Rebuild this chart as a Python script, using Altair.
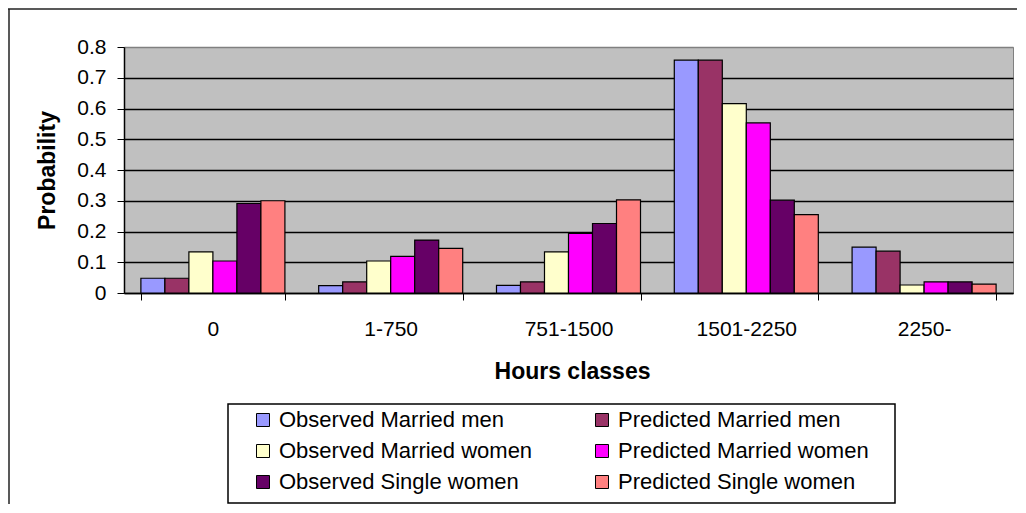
import altair as alt
import pandas as pd

categories = ["0", "1-750", "751-1500", "1501-2250", "2250-"]
series = [
    "Observed Married men",
    "Predicted Married men",
    "Observed Married women",
    "Predicted Married women",
    "Observed Single women",
    "Predicted Single women",
]
colors = ["#9999FF", "#993366", "#FFFFCC", "#FF00FF", "#660066", "#FF8080"]

obs_married_men = [0.048, 0.024, 0.025, 0.757, 0.149]
pred_married_men = [0.048, 0.036, 0.036, 0.757, 0.136]
obs_married_women = [0.134, 0.104, 0.134, 0.616, 0.026]
pred_married_women = [0.104, 0.119, 0.194, 0.553, 0.036]
obs_single_women = [0.291, 0.172, 0.226, 0.302, 0.036]
pred_single_women = [0.300, 0.145, 0.303, 0.255, 0.029]

y_ticks = [0, 0.1, 0.2, 0.3, 0.4, 0.5, 0.6, 0.7, 0.8]

all_values = [obs_married_men, pred_married_men, obs_married_women,
              pred_married_women, obs_single_women, pred_single_women]
rows = []
for s, vals in zip(series, all_values):
    for c, v in zip(categories, vals):
        rows.append({"Hours classes": c, "Series": s, "Probability": v})
df = pd.DataFrame(rows)

# legend is laid out column by column: observed series first, predicted second
legend_order = series[0::2] + series[1::2]
legend_colors = colors[0::2] + colors[1::2]

W, H = 889, 246
FONT = "Liberation Sans"

bars = alt.Chart(df).mark_bar(stroke="black", strokeWidth=1.2).encode(
    x=alt.X(
        "Hours classes:N",
        sort=categories,
        scale=alt.Scale(paddingInner=0.19, paddingOuter=0.095),
        axis=alt.Axis(
            title="Hours classes",
            labelAngle=0,
            tickBand="extent",
            tickSize=7,
            tickColor="black",
            domainColor="black",
            domainWidth=1.5,
            grid=False,
            labelFont=FONT,
            labelFontSize=21,
            labelColor="black",
            labelPadding=18,
            titleFont=FONT,
            titleFontSize=23,
            titleFontWeight="bold",
            titleColor="black",
            titleX=448,
            titleY=67,
            titleBaseline="top",
        ),
    ),
    xOffset=alt.XOffset("Series:N", sort=series,
                        scale=alt.Scale(paddingInner=0, paddingOuter=0)),
    y=alt.Y(
        "Probability:Q",
        scale=alt.Scale(domain=[0, 0.8], nice=False),
        axis=alt.Axis(
            title="Probability",
            values=y_ticks,
            format="~g",
            tickSize=7,
            tickColor="black",
            domainColor="black",
            domainWidth=1.5,
            grid=True,
            gridColor={"condition": {"test": "datum.value >= 0.79", "value": "#808080"}, "value": "black"},
            gridWidth=1.5,
            labelFont=FONT,
            labelFontSize=21,
            labelColor="black",
            labelPadding=11,
            titleFont=FONT,
            titleFontSize=23,
            titleFontWeight="bold",
            titleColor="black",
            titleX=-77,
            titleY=H / 2,
            titleBaseline="middle",
        ),
    ),
    color=alt.Color(
        "Series:N",
        scale=alt.Scale(domain=legend_order, range=legend_colors),
        legend=alt.Legend(
            title=None,
            orient="none",
            legendX=128,
            legendY=362,
            columns=2,
            columnPadding=58,
            rowPadding=9,
            symbolType="square",
            symbolSize=169,
            symbolStrokeColor="black",
            symbolStrokeWidth=1,
            labelFont=FONT,
            labelFontSize=22,
            labelColor="black",
            labelOffset=5,
            padding=0,
            labelLimit=400,
        ),
    ),
)

one = alt.Data(values=[{"k": 1}])
top_border = alt.Chart(one).mark_rule(color="#222222", strokeWidth=1.5).encode(
    x=alt.value(-116), x2=alt.value(W + 20), y=alt.value(-38)
)
left_border = alt.Chart(one).mark_rule(color="#222222", strokeWidth=1.5).encode(
    x=alt.value(-115), y=alt.value(-38), y2=alt.value(H + 300)
)
legend_box = alt.Chart(one).mark_rect(fill="white", stroke="black", strokeWidth=1.5).encode(
    x=alt.value(104), x2=alt.value(771), y=alt.value(357), y2=alt.value(456)
)

chart = alt.layer(top_border, left_border, legend_box, bars).properties(
    width=W,
    height=H,
    autosize=alt.AutoSizeParams(type="none"),
    padding={"left": 116, "top": 39, "right": 4, "bottom": 211},
    background="white",
).configure_view(
    fill="#C0C0C0", stroke="#808080", strokeWidth=1
)

chart.save("out.html", embed_options={"renderer": "svg", "actions": False})
